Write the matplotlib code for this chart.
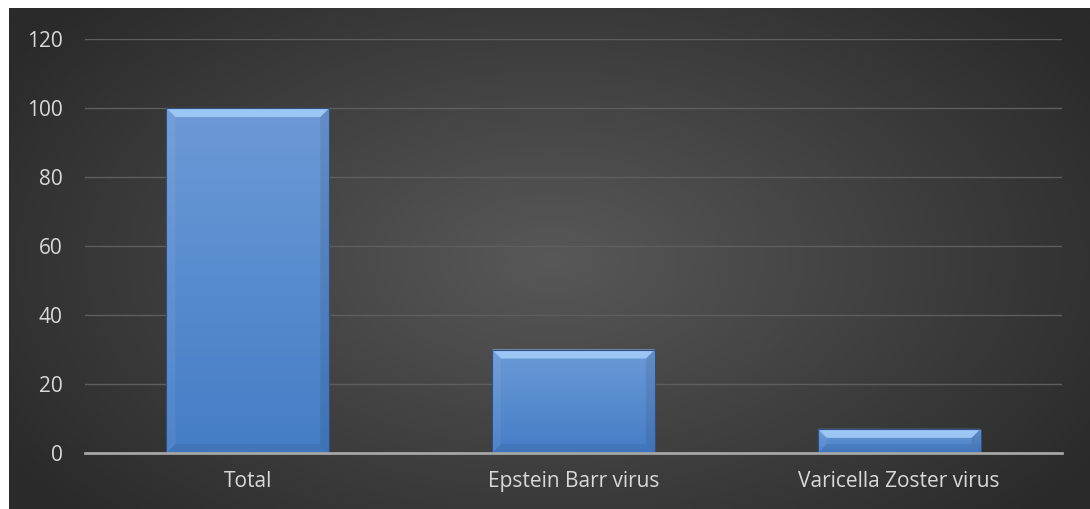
import numpy as np
import matplotlib.pyplot as plt
from matplotlib.patches import Polygon

categories = ['Total', 'Epstein Barr virus', 'Varicella Zoster virus']
values = [100, 30, 7]
y_ticks = [0, 20, 40, 60, 80, 100, 120]

W, H = 1090, 509
fig = plt.figure(figsize=(W / 100, H / 100), dpi=100, facecolor='white')

# radial gradient background (white strip top/left)
bg = fig.add_axes([9 / W, 0, 1 - 9 / W, 1 - 8 / H])
yy, xx = np.mgrid[0:200, 0:400]
r = np.sqrt(((xx - 200) / 240.0) ** 2 + ((yy - 100) / 150.0) ** 2)
r = np.clip(r, 0, 1)
shade = 0x58 / 255 * (1 - r) + 0x2a / 255 * r
bg.imshow(np.dstack([shade] * 3), aspect='auto', extent=[0, 1, 0, 1])
bg.set_xlim(0, 1)
bg.set_ylim(0, 1)
bg.set_axis_off()

# plot area in pixels: x 85..1062, y 39..453
ax = fig.add_axes([85 / W, 1 - 453 / H, (1062 - 85) / W, (453 - 39) / H])
ax.patch.set_alpha(0)
x = np.arange(len(categories))
bw = 0.5

bars = ax.bar(x, values, width=bw, color='none', edgecolor='#2f4f80', linewidth=0.8, zorder=5)

top_c = np.array([0x6c, 0x9a, 0xd6]) / 255
bot_c = np.array([0x45, 0x7d, 0xc6]) / 255
grad = np.linspace(0, 1, 100)[:, None]
grad_img = bot_c[None, None, :] * (1 - grad[:, :, None]) + top_c[None, None, :] * grad[:, :, None]

# bevel sizes in pixels converted to data units
px_x = len(categories) / (1062 - 85)
px_y = 120 / (453 - 39)
bx, by = 9 * px_x, 9 * px_y
for xi, v, bar in zip(x, values, bars):
    l, rr = xi - bw / 2, xi + bw / 2
    im = ax.imshow(grad_img, aspect='auto', extent=[l, rr, 0, v], origin='lower', zorder=3)
    im.set_clip_path(bar)
    b_y = min(by, v / 2.5)
    top = [(l, v), (rr, v), (rr - bx, v - b_y), (l + bx, v - b_y)]
    bot = [(l, 0), (rr, 0), (rr - bx, b_y), (l + bx, b_y)]
    left = [(l, 0), (l + bx, b_y), (l + bx, v - b_y), (l, v)]
    right = [(rr, 0), (rr - bx, b_y), (rr - bx, v - b_y), (rr, v)]
    ax.add_patch(Polygon(left, closed=True, facecolor='white', alpha=0.06, edgecolor='none', zorder=4))
    ax.add_patch(Polygon(right, closed=True, facecolor='black', alpha=0.08, edgecolor='none', zorder=4))
    ax.add_patch(Polygon(bot, closed=True, facecolor='black', alpha=0.06, edgecolor='none', zorder=4))
    ax.add_patch(Polygon(top, closed=True, facecolor='#9cc6f4', edgecolor='none', zorder=4))

ax.set_xlim(-0.5, len(categories) - 0.5)
ax.set_ylim(0, 120)
ax.set_yticks(y_ticks)
ax.set_xticks(x)
ax.set_xticklabels(categories)
ax.grid(axis='y', color='#5e5e5e', linewidth=1, zorder=0)
ax.tick_params(length=0, colors='#d9d9d9', labelsize=15)
ax.tick_params(axis='y', pad=16)
ax.tick_params(axis='x', pad=13)
for lbl in ax.get_xticklabels() + ax.get_yticklabels():
    lbl.set_fontfamily('Open Sans')
    lbl.set_color('#d9d9d9')
for s in ['top', 'right', 'left']:
    ax.spines[s].set_visible(False)
ax.spines['bottom'].set_color('#a6a6a6')
ax.spines['bottom'].set_linewidth(2)
ax.spines['bottom'].set_zorder(6)

fig.savefig('out.png', dpi=100)
